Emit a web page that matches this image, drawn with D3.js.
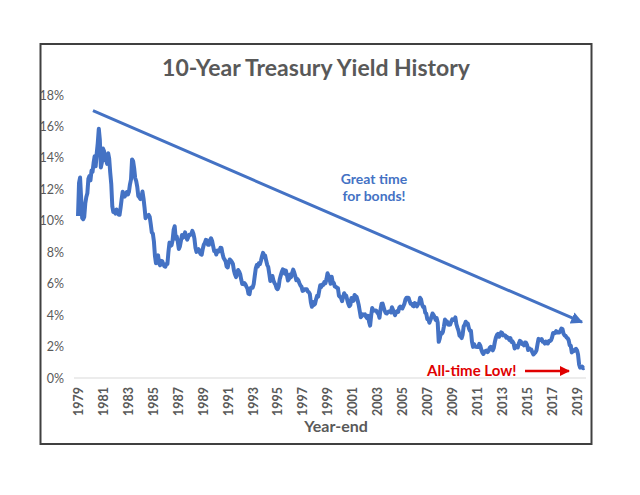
<!DOCTYPE html>
<html><head><meta charset="utf-8">
<script src="https://cdn.jsdelivr.net/npm/d3@7"></script>
<style>body{margin:0;background:#fff}svg{display:block}text{font-family:Lato,"Open Sans",sans-serif}</style>
</head><body><svg id="c" width="640" height="495"></svg>
<script>
// Monthly 10-year Treasury yield (%), Jan 1980 .. Aug 2020
const startYear = 1980;
const yields = [
10.30,12.41,12.75,11.47,10.18,10.10,10.25,11.10,11.51,11.75,12.68,12.84,
12.57,13.19,13.12,13.68,14.10,13.47,14.28,14.94,15.85,15.15,13.39,13.72,
14.59,14.43,13.86,13.87,13.62,14.30,13.95,13.06,12.34,10.91,10.55,10.54,
10.46,10.72,10.51,10.40,10.38,10.85,11.38,11.85,11.65,11.54,11.69,11.83,
11.67,11.84,12.32,12.63,13.90,13.80,13.36,12.72,12.52,12.16,11.57,11.50,
11.38,11.51,11.86,11.43,10.85,10.16,10.31,10.33,10.37,10.24,9.78,9.26,
9.19,8.70,7.78,7.30,7.71,7.80,7.30,7.17,7.45,7.43,7.25,7.11,
7.08,7.25,7.25,8.02,8.61,8.40,8.45,8.76,9.42,9.65,8.86,8.99,
8.67,8.21,8.37,8.72,9.09,8.92,9.06,9.26,8.98,8.80,8.96,9.11,
9.09,9.17,9.36,9.18,8.86,8.28,8.02,8.11,8.19,8.01,7.87,7.84,
8.21,8.47,8.59,8.79,8.76,8.48,8.47,8.75,8.89,8.72,8.39,8.08,
8.09,7.85,8.11,8.04,8.07,8.28,8.27,7.90,7.65,7.53,7.42,7.09,
7.03,7.34,7.54,7.48,7.39,7.26,6.84,6.59,6.42,6.59,6.87,6.77,
6.60,6.26,5.98,5.97,6.04,5.96,5.81,5.68,5.36,5.33,5.72,5.77,
5.75,5.97,6.48,6.97,7.18,7.10,7.30,7.24,7.46,7.74,7.96,7.81,
7.78,7.47,7.20,7.06,6.63,6.17,6.28,6.49,6.20,6.04,5.93,5.71,
5.65,5.81,6.27,6.51,6.74,6.91,6.87,6.64,6.83,6.53,6.20,6.30,
6.58,6.42,6.69,6.89,6.71,6.49,6.22,6.30,6.21,6.03,5.88,5.81,
5.54,5.57,5.65,5.64,5.65,5.50,5.46,5.34,4.81,4.53,4.83,4.65,
4.72,5.00,5.23,5.18,5.54,5.90,5.79,5.94,5.92,6.11,6.03,6.28,
6.66,6.52,6.26,5.99,6.44,6.10,6.05,5.83,5.80,5.74,5.72,5.24,
5.16,5.10,4.89,5.14,5.39,5.28,5.24,4.97,4.73,4.57,4.65,5.09,
5.04,4.91,5.28,5.21,5.16,4.93,4.65,4.26,3.87,3.94,4.05,4.03,
4.05,3.90,3.81,3.96,3.57,3.33,3.98,4.45,4.27,4.29,4.30,4.27,
4.15,4.08,3.83,4.35,4.72,4.73,4.50,4.28,4.13,4.10,4.19,4.23,
4.22,4.17,4.50,4.34,4.14,4.00,4.18,4.26,4.20,4.46,4.54,4.47,
4.42,4.57,4.72,4.99,5.11,5.11,5.09,4.88,4.72,4.73,4.60,4.56,
4.76,4.72,4.56,4.69,4.75,5.10,5.00,4.67,4.52,4.53,4.15,4.10,
3.74,3.74,3.51,3.68,3.88,4.10,4.01,3.89,3.69,3.81,3.53,2.30,
2.52,2.87,2.82,2.93,3.29,3.72,3.56,3.59,3.40,3.39,3.40,3.59,
3.73,3.69,3.73,3.85,3.42,3.20,3.01,2.70,2.65,2.54,2.76,3.29,
3.39,3.58,3.41,3.46,3.17,3.00,3.00,2.30,1.98,2.15,2.01,1.98,
1.97,1.97,2.17,2.05,1.80,1.62,1.53,1.68,1.72,1.75,1.65,1.72,
1.91,1.98,1.96,1.76,1.93,2.30,2.58,2.74,2.81,2.62,2.72,2.90,
2.86,2.71,2.72,2.71,2.56,2.60,2.54,2.42,2.53,2.30,2.33,2.21,
1.88,1.98,2.04,1.94,2.20,2.36,2.32,2.17,2.17,2.07,2.26,2.24,
2.09,1.78,1.89,1.81,1.81,1.64,1.50,1.56,1.63,1.76,2.14,2.49,
2.43,2.42,2.48,2.30,2.30,2.19,2.32,2.21,2.20,2.36,2.35,2.40,
2.58,2.86,2.84,2.87,2.98,2.91,2.89,2.89,3.00,3.15,3.12,2.83,
2.71,2.68,2.57,2.53,2.40,2.07,2.06,1.63,1.70,1.71,1.81,1.86,
1.76,1.50,0.87,0.66,0.67,0.73,0.62,0.65
];
const tickYears = [1979,1981,1983,1985,1987,1989,1991,1993,1995,1997,1999,2001,2003,2005,2007,2009,2011,2013,2015,2017,2019];
const yTicks = [0,2,4,6,8,10,12,14,16,18];
// trend line: from early 1981 at 17% to 2020.4 at ~3.55%
const trendStart = [1981.2, 17];
const trendEnd = [2020.4, 3.55];

const svg = d3.select("#c");
const x = d3.scaleLinear().domain([1980, 2020]).range([78, 577]);
const y = d3.scaleLinear().domain([0, 18]).range([378, 95]);

// frame
svg.append("rect").attr("x",40.5).attr("y",44).attr("width",551).attr("height",400)
  .attr("fill","none").attr("stroke","#404040").attr("stroke-width",2);

// title
svg.append("text").attr("x",316).attr("y",76).attr("text-anchor","middle")
  .attr("font-size",23).attr("font-weight","bold").attr("fill","#595959")
  .text("10-Year Treasury Yield History");

// baseline
svg.append("line").attr("x1",74).attr("x2",586).attr("y1",y(0)).attr("y2",y(0))
  .attr("stroke","#d9d9d9").attr("stroke-width",1);

// y axis
const yAxis = d3.axisLeft(y).tickValues(yTicks).tickSize(0).tickPadding(0).tickFormat(d => d + "%");
const gy = svg.append("g").attr("transform","translate(64,0)").call(yAxis);
gy.select(".domain").remove();
gy.selectAll("text").attr("font-size",12.5).attr("fill","#595959").attr("font-family","Lato,sans-serif");

// x axis (year-end labels)
const xAxis = d3.axisBottom(x).tickValues(tickYears.map(d => d + 1)).tickSize(0).tickPadding(0)
  .tickFormat(d => String(d - 1));
const gx = svg.append("g").attr("transform","translate(0,386)").call(xAxis);
gx.select(".domain").remove();
gx.selectAll("text").attr("font-size",12.5).attr("font-weight","bold").attr("fill","#595959").attr("font-family","Lato,sans-serif")
  .attr("text-anchor","end").attr("dy","0.35em").attr("transform","rotate(-90)")
  .attr("x",-1).attr("y",0);

svg.append("text").attr("x",336).attr("y",432).attr("text-anchor","middle")
  .attr("font-size",16).attr("font-weight","bold").attr("fill","#595959").text("Year-end");

// data line
const line = d3.line().x((d,i) => x(startYear + i/12)).y(d => y(d));
svg.append("path").datum(yields).attr("d",line).attr("fill","none")
  .attr("stroke","#4472C4").attr("stroke-width",4).attr("stroke-linejoin","round");

// trend arrow
const defs = svg.append("defs");
defs.append("marker").attr("id","ab").attr("viewBox","0 0 10 10").attr("refX",9).attr("refY",5)
  .attr("markerWidth",4).attr("markerHeight",4).attr("orient","auto")
  .append("path").attr("d","M0,0L10,5L0,10z").attr("fill","#4472C4");
defs.append("marker").attr("id","ar").attr("viewBox","0 0 10 10").attr("refX",9).attr("refY",5)
  .attr("markerWidth",4).attr("markerHeight",4).attr("orient","auto")
  .append("path").attr("d","M0,0L10,5L0,10z").attr("fill","#E00000");

svg.append("line").attr("x1",x(trendStart[0])).attr("y1",y(trendStart[1]))
  .attr("x2",x(trendEnd[0])).attr("y2",y(trendEnd[1]))
  .attr("stroke","#4472C4").attr("stroke-width",3).attr("marker-end","url(#ab)");

svg.append("text").attr("x",374).attr("y",184).attr("text-anchor","middle")
  .attr("font-size",14).attr("font-weight","bold").attr("fill","#4472C4").text("Great time");
svg.append("text").attr("x",374).attr("y",201).attr("text-anchor","middle")
  .attr("font-size",14).attr("font-weight","bold").attr("fill","#4472C4").text("for bonds!");

// all-time low annotation
svg.append("text").attr("x",427).attr("y",376).attr("font-size",15).attr("font-weight","bold")
  .attr("fill","#E00000").text("All-time Low!");
svg.append("line").attr("x1",525).attr("x2",569).attr("y1",371).attr("y2",371)
  .attr("stroke","#E00000").attr("stroke-width",2.5).attr("marker-end","url(#ar)");
</script></body></html>
